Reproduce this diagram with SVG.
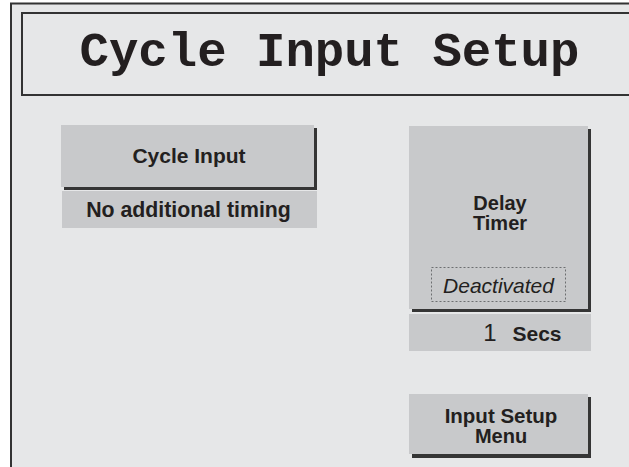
<svg xmlns="http://www.w3.org/2000/svg" width="629" height="467" viewBox="0 0 629 467">
<style>
.face{fill:#c8c9cb}
.shadow{fill:#353535}
.lbl{font-family:"Liberation Sans",Arial,sans-serif;font-weight:bold;font-size:21px;fill:#231f20;text-anchor:middle}
.lbl2{font-family:"Liberation Sans",Arial,sans-serif;font-weight:bold;font-size:20px;fill:#231f20;text-anchor:middle}
.title{font-family:"Liberation Mono","Courier New",monospace;font-weight:bold;font-size:49px;fill:#231f20;text-anchor:middle}
</style>
<rect x="0" y="0" width="629" height="467" fill="#ffffff"/>
<rect id="frame" x="11" y="3.5" width="640" height="480" fill="#e6e7e8" stroke="#333" stroke-width="2"/>
<g id="title-box">
<rect x="22" y="13" width="640" height="82" fill="#e6e7e8" stroke="#333" stroke-width="2"/>
<text class="title" x="329.5" y="66">Cycle Input Setup</text>
</g>
<g id="cycle-input">
<rect class="shadow" x="64" y="128" width="253" height="62"/>
<rect class="face" x="61" y="125" width="253" height="62"/>
<text class="lbl" x="189" y="163">Cycle Input</text>
</g>
<g id="no-additional-timing">
<rect class="face" x="62" y="191" width="255" height="37"/>
<text class="lbl" x="188.5" y="217" style="font-size:21.3px">No additional timing</text>
</g>
<g id="delay-timer">
<rect class="shadow" x="412" y="129" width="179" height="183"/>
<rect class="face" x="409" y="126" width="179" height="183"/>
<text class="lbl2" x="500" y="209.5">Delay</text>
<text class="lbl2" x="500" y="229.5">Timer</text>
<rect x="431.5" y="267.5" width="134" height="34" fill="none" stroke="#6d6e70" stroke-width="1" stroke-dasharray="2,2"/>
<text x="498.5" y="293" font-family="'Liberation Sans',Arial,sans-serif" font-style="italic" font-size="21" fill="#231f20" text-anchor="middle">Deactivated</text>
</g>
<g id="secs">
<rect class="face" x="409" y="314" width="182" height="37"/>
<text x="490" y="341" font-family="'Liberation Sans',Arial,sans-serif" font-size="24" fill="#231f20" text-anchor="middle">1</text>
<text class="lbl" x="537" y="341">Secs</text>
</g>
<g id="input-setup-menu">
<rect class="shadow" x="412" y="397" width="179" height="61"/>
<rect class="face" x="409" y="394" width="179" height="60"/>
<text class="lbl" x="501" y="422.5" style="font-size:20.5px">Input Setup</text>
<text class="lbl2" x="501" y="443">Menu</text>
</g>
<g id="connectors"/>
</svg>
